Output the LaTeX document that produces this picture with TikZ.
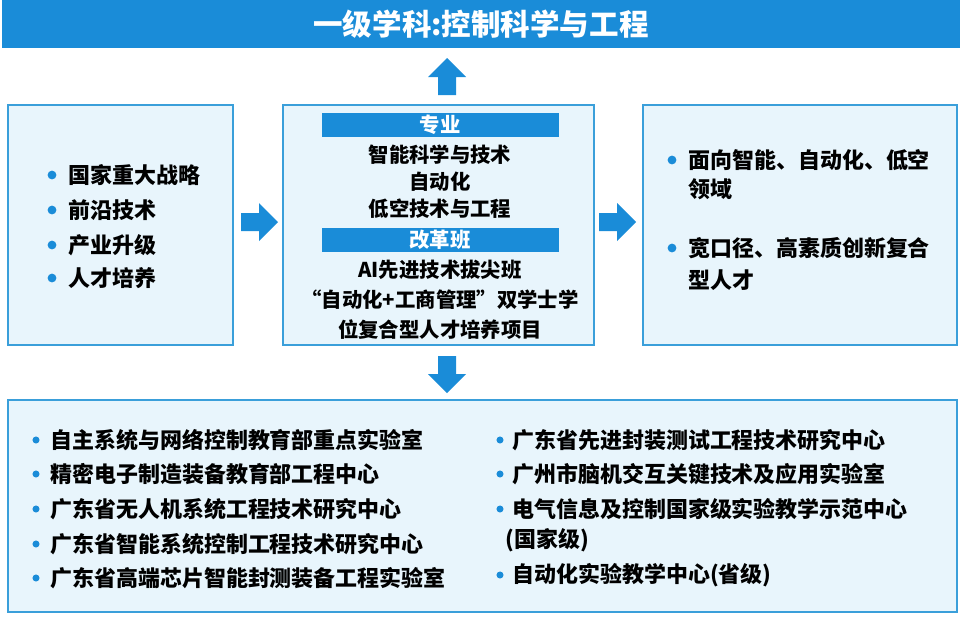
\documentclass[tikz,border=0pt]{standalone}
\usepackage{fontspec}
\setmainfont{Noto Sans CJK SC}
\definecolor{barblue}{HTML}{1A8CD8}
\definecolor{boxfill}{HTML}{E8F5FC}
\definecolor{boxline}{HTML}{3A9FDA}
\tikzset{
  panel/.style={draw=boxline,fill=boxfill,line width=0.8pt},
  txt/.style={font=\bfseries\fontsize{11.6}{13}\selectfont,inner sep=0pt},
  item/.style={font=\bfseries\fontsize{12.5}{14}\selectfont,inner sep=0pt,anchor=west},
  dot/.style={circle,fill=barblue,inner sep=0pt,minimum size=5pt}
}
% block arrow pointing right, drawn at origin then rotated/shifted
\newcommand\blockarrow[2]{\fill[barblue,shift={#1},rotate=#2]
  (-18,-9) -- (0,-9) -- (0,-19) -- (19,0) -- (0,19) -- (0,9) -- (-18,9) -- cycle;}
\begin{document}
\begin{tikzpicture}[x=0.02cm,y=-0.02cm]
\useasboundingbox (0,0) rectangle (963,616);
% title
\fill[barblue] (2,0) rectangle (960,48);
\node[text=white,font=\bfseries\fontsize{16.8}{18}\selectfont] (title) at (481,24) {一级学科:控制科学与工程};
% panels
\draw[panel] (8,105) rectangle (233,345);
\draw[panel] (283,105) rectangle (594,345);
\draw[panel] (643,105) rectangle (957,345);
\draw[panel] (8,400) rectangle (957,612);
% arrows
\blockarrow{(447,77)}{90}
\blockarrow{(447,374)}{-90}
\blockarrow{(259,222)}{0}
\blockarrow{(617,222)}{0}
% left
\foreach \t/\y in {国家重大战略/175,前沿技术/210,产业升级/245,人才培养/278}
  \node[dot] at (52,\y) {} node[item] at (68,\y) {\t};
% middle
\fill[barblue] (322,113) rectangle (559,137);
\node[text=white,txt] (zy) at (440,125) {专业};
\foreach \t/\y in {智能科学与技术/155,自动化/182,低空技术与工程/209}
  \node[txt] at (440,\y) {\t};
\fill[barblue] (322,228) rectangle (559,252);
\node[text=white,txt] (ggb) at (440,240) {改革班};
\foreach \t/\y in {AI先进技术拔尖班/270,“自动化+工商管理”双学士学/300,位复合型人才培养项目/330}
  \node[txt] at (440,\y) {\t};
% right
\node[dot] at (672,160) {};
\node[item] at (688,160) {面向智能、自动化、低空};
\node[item] at (688,189) {领域};
\node[dot] at (672,248) {};
\node[item] at (688,248) {宽口径、高素质创新复合};
\node[item] at (688,280) {型人才};
% bottom
\foreach \t/\y in {自主系统与网络控制教育部重点实验室/440,精密电子制造装备教育部工程中心/474,
  广东省无人机系统工程技术研究中心/509,广东省智能系统控制工程技术研究中心/544,广东省高端芯片智能封测装备工程实验室/578}
  \node[dot,minimum size=4pt] at (36,\y) {} node[item] at (50,\y) {\t};
\foreach \t/\y in {广东省先进封装测试工程技术研究中心/440,广州市脑机交互关键技术及应用实验室/474,
  电气信息及控制国家级实验教学示范中心/509,自动化实验教学中心(省级)/575}
  \node[dot,minimum size=4pt] at (500,\y) {} node[item] at (512,\y) {\t};
\node[item] at (505,540) {(国家级)};
\end{tikzpicture}
\end{document}
